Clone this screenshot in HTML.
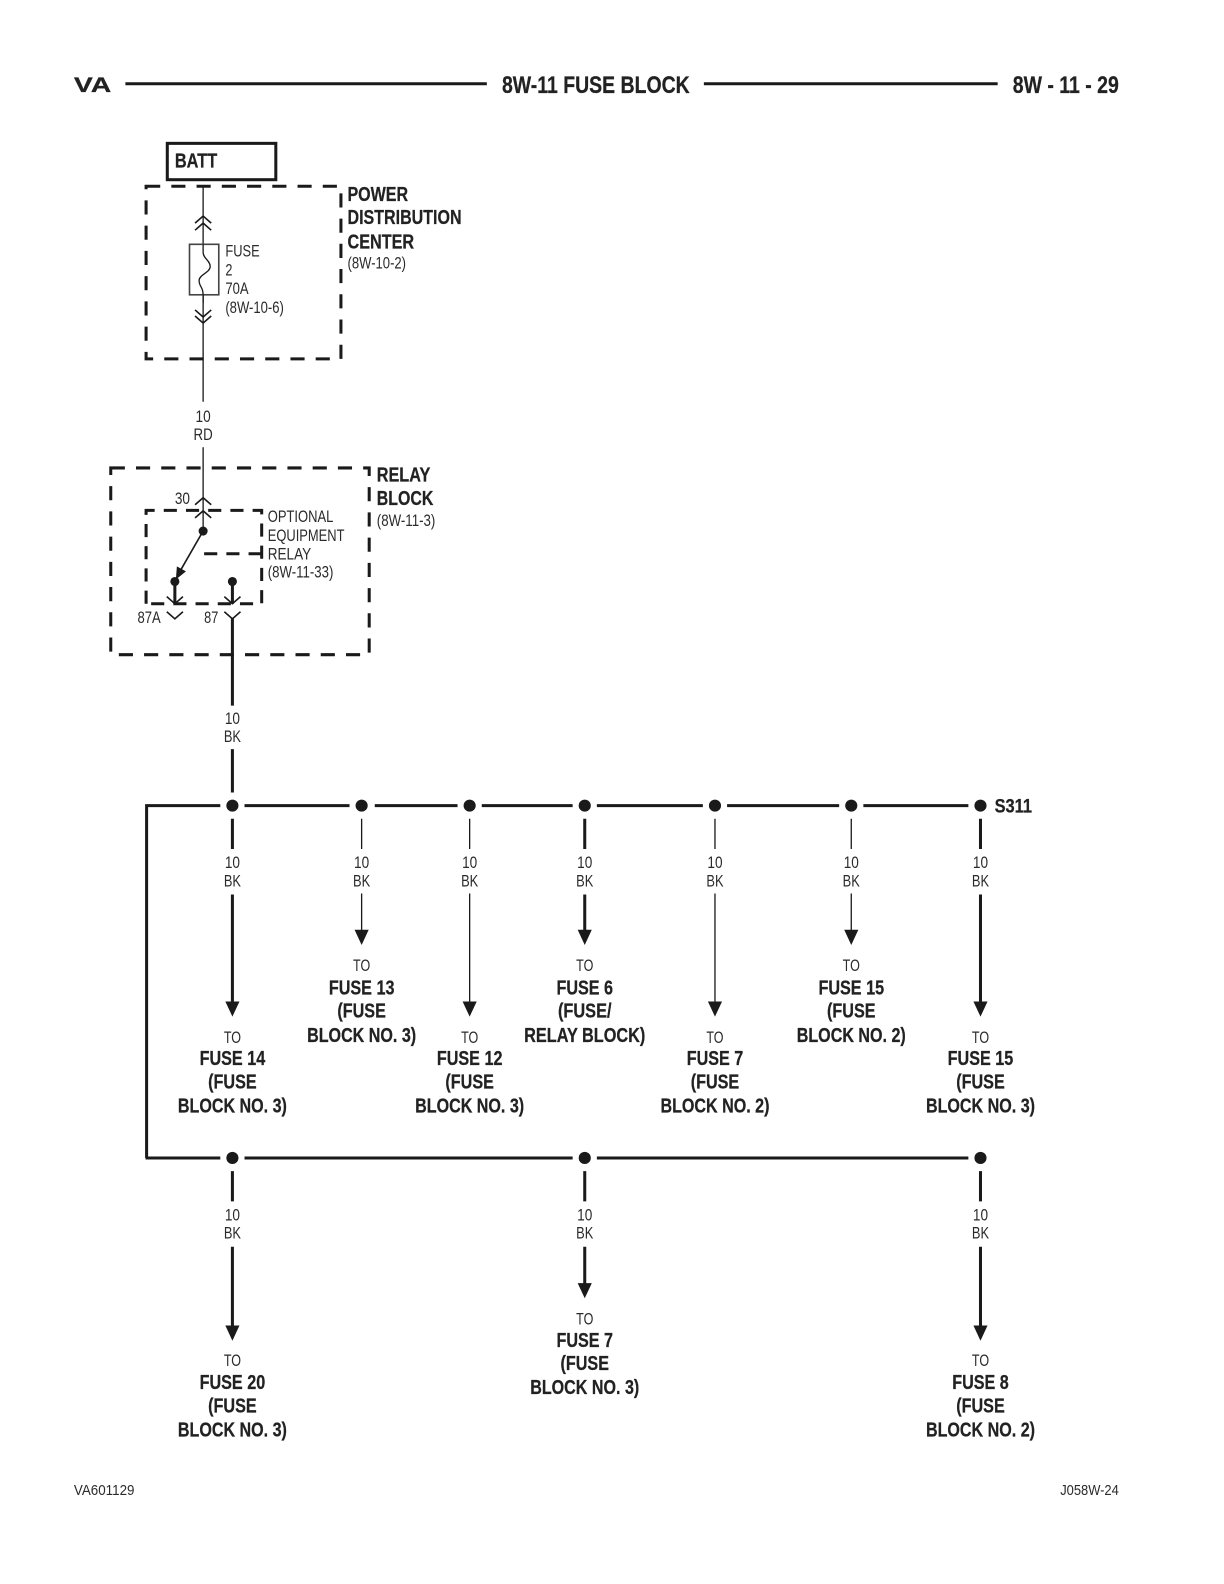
<!DOCTYPE html>
<html><head><meta charset="utf-8"><style>
html,body{margin:0;padding:0;background:#fff;width:1224px;height:1584px;overflow:hidden}
svg{display:block}
text{font-family:"Liberation Sans",sans-serif;fill:#2b2b2b;font-size:16px}
.b{font-weight:bold;font-size:20px;fill:#222;stroke:#222;stroke-width:.25}
.m{text-anchor:middle}
.t{stroke:#1a1a1a;stroke-width:3;fill:none}
.n{stroke:#1a1a1a;stroke-width:1.3;fill:none}
.g{stroke:#1a1a1a;stroke-width:1.6;fill:none}
.d{stroke:#1a1a1a;stroke-width:3;fill:none;stroke-dasharray:14 11}
.f{fill:#1a1a1a;stroke:none}
</style></head><body>
<svg xmlns="http://www.w3.org/2000/svg" width="1224" height="1584" viewBox="0 0 1212 1569">
<!-- header -->
<text x="73" y="91" class="b" style="font-size:21px" textLength="37" lengthAdjust="spacingAndGlyphs">VA</text>
<path class="t" d="M124 83H482M697 83H988"/>
<text x="497" y="92" class="b" style="font-size:24px" textLength="186" lengthAdjust="spacingAndGlyphs">8W-11 FUSE BLOCK</text>
<text x="1003" y="92" class="b" style="font-size:24px" textLength="105" lengthAdjust="spacingAndGlyphs">8W - 11 - 29</text>
<!-- BATT -->
<rect x="165.500" y="142" width="107.500" height="36" class="t"/>
<text x="173" y="166" class="b" textLength="42" lengthAdjust="spacingAndGlyphs">BATT</text>
<!-- PDC -->
<rect x="144.500" y="184.500" width="193" height="171" class="d"/>
<path class="n" d="M201 184V398M201 443V527"/>
<path class="g" d="M193 221l8-7 8 7M193 228l8-7 8 7M193 307l8 7 8-7M193 313l8 7 8-7"/>
<rect x="187.500" y="242" width="29" height="50" fill="#fff" stroke="#444" stroke-width="1.600"/>
<path class="n" d="M201 242V250C201 256 208 258 208 264C208 270 197 272 197 278C197 284 201 284 201 292V300"/>
<text x="223" y="254" textLength="34" lengthAdjust="spacingAndGlyphs">FUSE</text>
<text x="223" y="273" textLength="7" lengthAdjust="spacingAndGlyphs">2</text>
<text x="223" y="291" textLength="23" lengthAdjust="spacingAndGlyphs">70A</text>
<text x="223" y="310" textLength="58" lengthAdjust="spacingAndGlyphs">(8W-10-6)</text>
<text x="344" y="199" class="b" textLength="60" lengthAdjust="spacingAndGlyphs">POWER</text>
<text x="344" y="222" class="b" textLength="113" lengthAdjust="spacingAndGlyphs">DISTRIBUTION</text>
<text x="344" y="246" class="b" textLength="66" lengthAdjust="spacingAndGlyphs">CENTER</text>
<text x="344" y="266" textLength="58" lengthAdjust="spacingAndGlyphs">(8W-10-2)</text>
<text x="201" y="418" class="m" textLength="15" lengthAdjust="spacingAndGlyphs">10</text>
<text x="201" y="436" class="m" textLength="19" lengthAdjust="spacingAndGlyphs">RD</text>
<!-- Relay block -->
<rect x="109.500" y="463.500" width="256" height="185" class="d"/>
<text x="373" y="477" class="b" textLength="53" lengthAdjust="spacingAndGlyphs">RELAY</text>
<text x="373" y="500" class="b" textLength="56" lengthAdjust="spacingAndGlyphs">BLOCK</text>
<text x="373" y="521" textLength="58" lengthAdjust="spacingAndGlyphs">(8W-11-3)</text>
<path class="d" style="stroke-dasharray:13 9" d="M144.500 598V505.500H259V598H144.500M259 548.500H194"/>
<text x="173" y="499" textLength="15" lengthAdjust="spacingAndGlyphs">30</text>
<path class="g" d="M193 500l8-7 8 7M193 513l8-7 8 7"/>
<circle cx="201" cy="526" r="4.500" class="f"/>
<circle cx="173" cy="576" r="4.500" class="f"/>
<circle cx="230" cy="576" r="4.500" class="f"/>
<path class="g" d="M201 526L178 566"/>
<path class="f" d="M174 574L175 561L184 566Z"/>
<path class="t" d="M173 576V598M230 576V598"/>
<path class="g" d="M165 591l8 7 8-7M222 591l8 7 8-7M165 606l8 7 8-7M222 606l8 7 8-7"/>
<text x="136" y="617" textLength="23" lengthAdjust="spacingAndGlyphs">87A</text>
<text x="202" y="617" textLength="14" lengthAdjust="spacingAndGlyphs">87</text>
<text x="265" y="517" textLength="65" lengthAdjust="spacingAndGlyphs">OPTIONAL</text>
<text x="265" y="536" textLength="76" lengthAdjust="spacingAndGlyphs">EQUIPMENT</text>
<text x="265" y="554" textLength="43" lengthAdjust="spacingAndGlyphs">RELAY</text>
<text x="265" y="572" textLength="65" lengthAdjust="spacingAndGlyphs">(8W-11-33)</text>
<path class="t" d="M230 612V699M230 742V785"/>
<text x="230" y="717" class="m" textLength="15" lengthAdjust="spacingAndGlyphs">10</text>
<text x="230" y="735" class="m" textLength="17" lengthAdjust="spacingAndGlyphs">BK</text>
<!-- buses -->
<path class="t" d="M145 798H218M242 798H346M371 798H453M477 798H567M591 798H696M720 798H831M855 798H959M145 796.500V1147M144 1147H218M242 1147H567M591 1147H959"/>
<g class="f">
<circle cx="230" cy="798" r="6"/><circle cx="358" cy="798" r="6"/><circle cx="465" cy="798" r="6"/><circle cx="579" cy="798" r="6"/><circle cx="708" cy="798" r="6"/><circle cx="843" cy="798" r="6"/><circle cx="971" cy="798" r="6"/>
<circle cx="230" cy="1147" r="6"/><circle cx="579" cy="1147" r="6"/><circle cx="971" cy="1147" r="6"/>
</g>
<text x="985" y="805" class="b" style="font-size:19px" textLength="37" lengthAdjust="spacingAndGlyphs">S311</text>
<!-- branch wires -->
<path class="t" d="M230 811V841M230 886V994M579 811V841M579 886V924M971 811V841M971 886V994M230 1160V1190M230 1235V1315M579 1160V1190M579 1235V1273M971 1160V1190M971 1235V1315"/>
<path class="n" d="M358 811V841M358 885V924M465 811V841M465 885V994M708 811V841M708 885V994M843 811V841M843 885V924"/>
<g class="f">
<path d="M223 992H237L230 1007Z"/><path d="M351 921H365L358 936Z"/><path d="M458 992H472L465 1007Z"/><path d="M572 921H586L579 936Z"/><path d="M701 992H715L708 1007Z"/><path d="M836 921H850L843 936Z"/><path d="M964 992H978L971 1007Z"/>
<path d="M223 1313H237L230 1328Z"/><path d="M572 1271H586L579 1286Z"/><path d="M964 1313H978L971 1328Z"/>
</g>
<!-- 10 BK labels -->
<g class="m">
<text x="230" y="860" textLength="15" lengthAdjust="spacingAndGlyphs">10</text><text x="230" y="878" textLength="17" lengthAdjust="spacingAndGlyphs">BK</text>
<text x="358" y="860" textLength="15" lengthAdjust="spacingAndGlyphs">10</text><text x="358" y="878" textLength="17" lengthAdjust="spacingAndGlyphs">BK</text>
<text x="465" y="860" textLength="15" lengthAdjust="spacingAndGlyphs">10</text><text x="465" y="878" textLength="17" lengthAdjust="spacingAndGlyphs">BK</text>
<text x="579" y="860" textLength="15" lengthAdjust="spacingAndGlyphs">10</text><text x="579" y="878" textLength="17" lengthAdjust="spacingAndGlyphs">BK</text>
<text x="708" y="860" textLength="15" lengthAdjust="spacingAndGlyphs">10</text><text x="708" y="878" textLength="17" lengthAdjust="spacingAndGlyphs">BK</text>
<text x="843" y="860" textLength="15" lengthAdjust="spacingAndGlyphs">10</text><text x="843" y="878" textLength="17" lengthAdjust="spacingAndGlyphs">BK</text>
<text x="971" y="860" textLength="15" lengthAdjust="spacingAndGlyphs">10</text><text x="971" y="878" textLength="17" lengthAdjust="spacingAndGlyphs">BK</text>
<text x="230" y="1209" textLength="15" lengthAdjust="spacingAndGlyphs">10</text><text x="230" y="1227" textLength="17" lengthAdjust="spacingAndGlyphs">BK</text>
<text x="579" y="1209" textLength="15" lengthAdjust="spacingAndGlyphs">10</text><text x="579" y="1227" textLength="17" lengthAdjust="spacingAndGlyphs">BK</text>
<text x="971" y="1209" textLength="15" lengthAdjust="spacingAndGlyphs">10</text><text x="971" y="1227" textLength="17" lengthAdjust="spacingAndGlyphs">BK</text>
</g>
<!-- destinations -->
<g class="m">
<text x="230" y="1033" textLength="17" lengthAdjust="spacingAndGlyphs">TO</text>
<text x="230" y="1055" class="b m" textLength="65" lengthAdjust="spacingAndGlyphs">FUSE 14</text>
<text x="230" y="1078" class="b m" textLength="48" lengthAdjust="spacingAndGlyphs">(FUSE</text>
<text x="230" y="1102" class="b m" textLength="108" lengthAdjust="spacingAndGlyphs">BLOCK NO. 3)</text>
<text x="358" y="962" textLength="17" lengthAdjust="spacingAndGlyphs">TO</text>
<text x="358" y="985" class="b m" textLength="65" lengthAdjust="spacingAndGlyphs">FUSE 13</text>
<text x="358" y="1008" class="b m" textLength="48" lengthAdjust="spacingAndGlyphs">(FUSE</text>
<text x="358" y="1032" class="b m" textLength="108" lengthAdjust="spacingAndGlyphs">BLOCK NO. 3)</text>
<text x="465" y="1033" textLength="17" lengthAdjust="spacingAndGlyphs">TO</text>
<text x="465" y="1055" class="b m" textLength="65" lengthAdjust="spacingAndGlyphs">FUSE 12</text>
<text x="465" y="1078" class="b m" textLength="48" lengthAdjust="spacingAndGlyphs">(FUSE</text>
<text x="465" y="1102" class="b m" textLength="108" lengthAdjust="spacingAndGlyphs">BLOCK NO. 3)</text>
<text x="579" y="962" textLength="17" lengthAdjust="spacingAndGlyphs">TO</text>
<text x="579" y="985" class="b m" textLength="56" lengthAdjust="spacingAndGlyphs">FUSE 6</text>
<text x="579" y="1008" class="b m" textLength="53" lengthAdjust="spacingAndGlyphs">(FUSE/</text>
<text x="579" y="1032" class="b m" textLength="120" lengthAdjust="spacingAndGlyphs">RELAY BLOCK)</text>
<text x="708" y="1033" textLength="17" lengthAdjust="spacingAndGlyphs">TO</text>
<text x="708" y="1055" class="b m" textLength="56" lengthAdjust="spacingAndGlyphs">FUSE 7</text>
<text x="708" y="1078" class="b m" textLength="48" lengthAdjust="spacingAndGlyphs">(FUSE</text>
<text x="708" y="1102" class="b m" textLength="108" lengthAdjust="spacingAndGlyphs">BLOCK NO. 2)</text>
<text x="843" y="962" textLength="17" lengthAdjust="spacingAndGlyphs">TO</text>
<text x="843" y="985" class="b m" textLength="65" lengthAdjust="spacingAndGlyphs">FUSE 15</text>
<text x="843" y="1008" class="b m" textLength="48" lengthAdjust="spacingAndGlyphs">(FUSE</text>
<text x="843" y="1032" class="b m" textLength="108" lengthAdjust="spacingAndGlyphs">BLOCK NO. 2)</text>
<text x="971" y="1033" textLength="17" lengthAdjust="spacingAndGlyphs">TO</text>
<text x="971" y="1055" class="b m" textLength="65" lengthAdjust="spacingAndGlyphs">FUSE 15</text>
<text x="971" y="1078" class="b m" textLength="48" lengthAdjust="spacingAndGlyphs">(FUSE</text>
<text x="971" y="1102" class="b m" textLength="108" lengthAdjust="spacingAndGlyphs">BLOCK NO. 3)</text>
<text x="230" y="1353" textLength="17" lengthAdjust="spacingAndGlyphs">TO</text>
<text x="230" y="1376" class="b m" textLength="65" lengthAdjust="spacingAndGlyphs">FUSE 20</text>
<text x="230" y="1399" class="b m" textLength="48" lengthAdjust="spacingAndGlyphs">(FUSE</text>
<text x="230" y="1423" class="b m" textLength="108" lengthAdjust="spacingAndGlyphs">BLOCK NO. 3)</text>
<text x="579" y="1312" textLength="17" lengthAdjust="spacingAndGlyphs">TO</text>
<text x="579" y="1334" class="b m" textLength="56" lengthAdjust="spacingAndGlyphs">FUSE 7</text>
<text x="579" y="1357" class="b m" textLength="48" lengthAdjust="spacingAndGlyphs">(FUSE</text>
<text x="579" y="1381" class="b m" textLength="108" lengthAdjust="spacingAndGlyphs">BLOCK NO. 3)</text>
<text x="971" y="1353" textLength="17" lengthAdjust="spacingAndGlyphs">TO</text>
<text x="971" y="1376" class="b m" textLength="56" lengthAdjust="spacingAndGlyphs">FUSE 8</text>
<text x="971" y="1399" class="b m" textLength="48" lengthAdjust="spacingAndGlyphs">(FUSE</text>
<text x="971" y="1423" class="b m" textLength="108" lengthAdjust="spacingAndGlyphs">BLOCK NO. 2)</text>
</g>
<!-- footer -->
<text x="73" y="1481" style="font-size:14.500px" textLength="60" lengthAdjust="spacingAndGlyphs">VA601129</text>
<text x="1050" y="1481" style="font-size:14.500px" textLength="58" lengthAdjust="spacingAndGlyphs">J058W-24</text>
</svg>
</body></html>
